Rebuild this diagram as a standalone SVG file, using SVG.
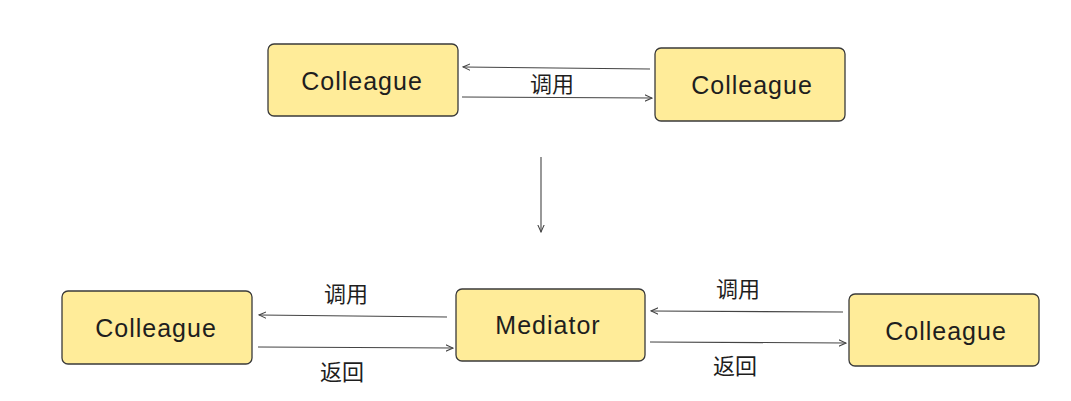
<svg xmlns="http://www.w3.org/2000/svg" width="1071" height="401" viewBox="0 0 1071 401">
<defs>
<style>
.box{fill:#ffec99;stroke:#3a3a3a;stroke-width:1.3}
.t{font-family:"Liberation Sans","Noto Sans",sans-serif;font-size:25px;letter-spacing:1px;fill:#1e1e1e;text-anchor:middle;dominant-baseline:central}
.l{font-family:"Noto Sans CJK SC",sans-serif;font-size:22px;fill:#1e1e1e;text-anchor:middle;dominant-baseline:central}
.c{stroke:#444;stroke-width:1.1;fill:none;marker-end:url(#ah)}
</style>
<marker id="ah" viewBox="0 0 10 10" refX="9" refY="5" markerWidth="8" markerHeight="8" markerUnits="userSpaceOnUse" orient="auto">
<path d="M0,1 L9,5 L0,9" fill="none" stroke="#444" stroke-width="1.3"/>
</marker>
</defs>
<rect width="1071" height="401" fill="#fff"/>
<g id="top-left">
<rect class="box" x="268" y="44" width="190" height="72" rx="6"/>
<text class="t" x="362" y="81">Colleague</text>
</g>
<g id="top-right">
<rect class="box" x="655" y="48" width="190" height="73" rx="6"/>
<text class="t" x="752" y="85">Colleague</text>
</g>
<g id="bottom-left">
<rect class="box" x="62" y="291" width="190" height="73" rx="6"/>
<text class="t" x="156" y="328">Colleague</text>
</g>
<g id="mediator">
<rect class="box" x="456" y="289" width="189" height="72" rx="6"/>
<text class="t" x="548" y="325">Mediator</text>
</g>
<g id="bottom-right">
<rect class="box" x="849" y="294" width="190" height="72" rx="6"/>
<text class="t" x="946" y="331">Colleague</text>
</g>
<g id="connectors">
<line class="c" x1="650" y1="69" x2="463" y2="67"/>
<line class="c" x1="462" y1="97" x2="652" y2="98"/>
<line class="c" x1="541" y1="157" x2="541" y2="232"/>
<line class="c" x1="447" y1="317" x2="259" y2="315"/>
<line class="c" x1="258" y1="347" x2="453" y2="348"/>
<line class="c" x1="843" y1="312" x2="651" y2="311"/>
<line class="c" x1="650" y1="342" x2="846" y2="343"/>
</g>
<g id="labels">
<text class="l" x="552" y="82">调用</text>
<text class="l" x="346" y="292">调用</text>
<text class="l" x="342" y="370">返回</text>
<text class="l" x="738" y="287">调用</text>
<text class="l" x="735" y="364">返回</text>
</g>
</svg>
